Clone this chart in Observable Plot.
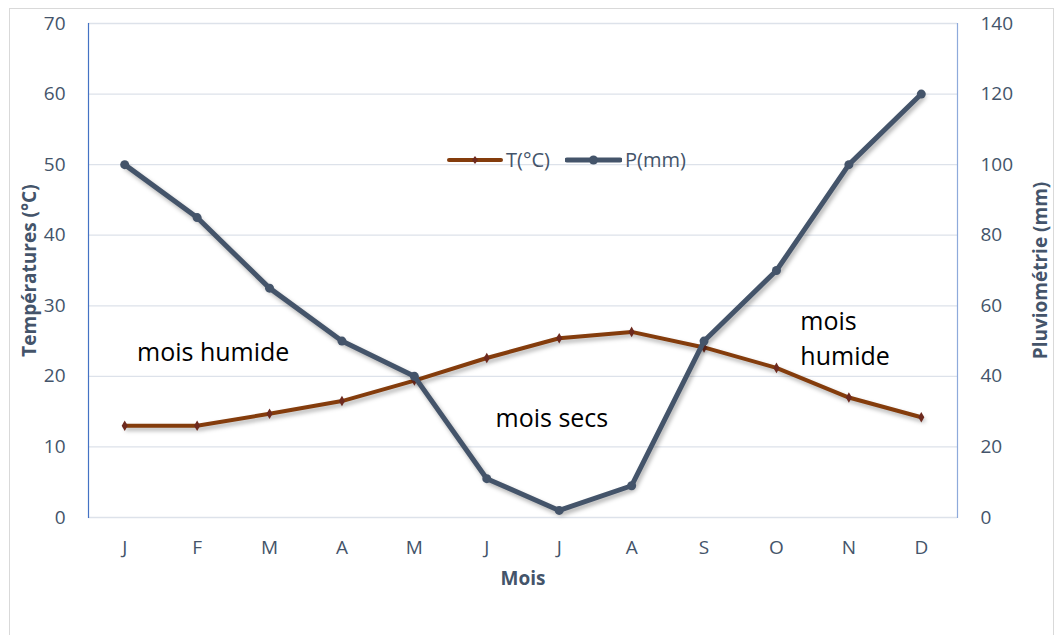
<!DOCTYPE html>
<html>
<head>
<meta charset="utf-8">
<script src="https://cdn.jsdelivr.net/npm/d3@7"></script>
<script src="https://cdn.jsdelivr.net/npm/@observablehq/plot@0.6"></script>
<style>
  html, body { margin: 0; padding: 0; background: #fff; }
  body { width: 1064px; height: 635px; position: relative; overflow: hidden; font-family: "Open Sans", sans-serif; }
  #border { position: absolute; left: 9px; top: 8px; width: 1045px; height: 660px; border: 1px solid #d9d9d9; box-sizing: border-box; }
  #chart { position: absolute; left: 0; top: 0; }
  #legend { position: absolute; left: 447px; top: 146px; display: flex; align-items: center; font-size: 20px; color: #44546a; }
  #legend .item { display: flex; align-items: center; margin-right: 15px; }
  #legend svg { margin-right: 3px; }
</style>
</head>
<body>
<div id="border"></div>
<div id="chart"></div>
<div id="legend">
  <div class="item"><svg width="56" height="12"><line x1="2" y1="6" x2="54" y2="6" stroke="#843c0c" stroke-width="4" stroke-linecap="round"/><path d="M28 2 L31 6 L28 10 L25 6 Z" fill="#6e2a1e"/></svg><span>T(°C)</span></div>
  <div class="item"><svg width="57" height="12"><line x1="2" y1="6" x2="55" y2="6" stroke="#44546a" stroke-width="5" stroke-linecap="round"/><circle cx="28.5" cy="6" r="4.5" fill="#44546a"/></svg><span>P(mm)</span></div>
</div>
<script>
const months = ["J","F","M","A","M","J","J","A","S","O","N","D"];
const temperature = [13.0, 13.0, 14.7, 16.5, 19.4, 22.6, 25.4, 26.3, 24.1, 21.2, 17.0, 14.2];
const precipitation = [100, 85, 65, 50, 40, 11, 2, 9, 50, 70, 100, 120];
const tempTicks = [0, 10, 20, 30, 40, 50, 60, 70];
const precipTicks = [0, 20, 40, 60, 80, 100, 120, 140];
const annoLabels = ["mois humide", "mois secs", "mois\nhumide"];
const annoX = [0.17, 5.12, 9.33];
const annoY = [23.7, 14.45, 25.7];

const data = months.map((m, i) => ({i, m, T: temperature[i], P: precipitation[i]}));
const annos = annoLabels.map((t, k) => ({t, x: annoX[k], y: annoY[k]}));
const ratio = precipTicks[precipTicks.length - 1] / tempTicks[tempTicks.length - 1];

const tickColor = "#44546a";

const chart = Plot.plot({
  width: 1064,
  height: 635,
  marginLeft: 88,
  marginRight: 107,
  marginTop: 23,
  marginBottom: 118,
  style: {fontFamily: "'Open Sans', sans-serif", background: "transparent", overflow: "visible"},
  x: {type: "linear", domain: [-0.5, months.length - 0.5]},
  y: {domain: [0, 70]},
  marks: [
    Plot.ruleY(tempTicks, {stroke: "#dde2ea", strokeWidth: 1.3}),
    Plot.frame({anchor: "left", stroke: "#4472c4", strokeWidth: 1.2}),
    Plot.frame({anchor: "right", stroke: "#8eaadb", strokeWidth: 1.2}),
    Plot.axisY(tempTicks, {anchor: "left", tickSize: 0, tickPadding: 23, fontSize: 19, color: tickColor, label: null}),
    Plot.axisY(tempTicks, {anchor: "right", tickSize: 0, tickPadding: 23, fontSize: 19, color: tickColor, label: null,
      tickFormat: d => String(precipTicks[tempTicks.indexOf(d)])}),
    Plot.axisX(d3.range(months.length), {tickSize: 0, tickPadding: 23, fontSize: 19, color: tickColor, label: null,
      tickFormat: i => months[i]}),
    Plot.text(["Températures (°C)"], {frameAnchor: "left", textAnchor: "middle", dx: -59, rotate: -90, fontSize: 19, fontWeight: "bold", fill: tickColor}),
    Plot.text(["Pluviométrie (mm)"], {frameAnchor: "right", textAnchor: "middle", dx: 83, rotate: -90, fontSize: 19, fontWeight: "bold", fill: tickColor}),
    Plot.text(["Mois"], {frameAnchor: "bottom", dy: 67, fontSize: 19, fontWeight: "bold", fill: tickColor}),
    Plot.line(data, {x: "i", y: "T", stroke: "#843c0c", strokeWidth: 4, strokeLinejoin: "round"}),
    Plot.dot(data, {x: "i", y: "T", symbol: "diamond", r: 3.2, fill: "#6e2a1e", stroke: "none"}),
    Plot.line(data, {x: "i", y: d => d.P / ratio, stroke: "#44546a", strokeWidth: 5, strokeLinejoin: "round"}),
    Plot.dot(data, {x: "i", y: d => d.P / ratio, r: 4.5, fill: "#44546a", stroke: "none"}),
    Plot.text(annos, {x: "x", y: "y", text: "t", textAnchor: "start", fontSize: 25, lineHeight: 1.4, fill: "#000"})
  ]
});
document.getElementById("chart").appendChild(chart);
chart.querySelectorAll('g[aria-label="line"]').forEach(g => {
  g.style.filter = "drop-shadow(2px 3px 2px rgba(0,0,0,0.3))";
});
</script>
</body>
</html>
